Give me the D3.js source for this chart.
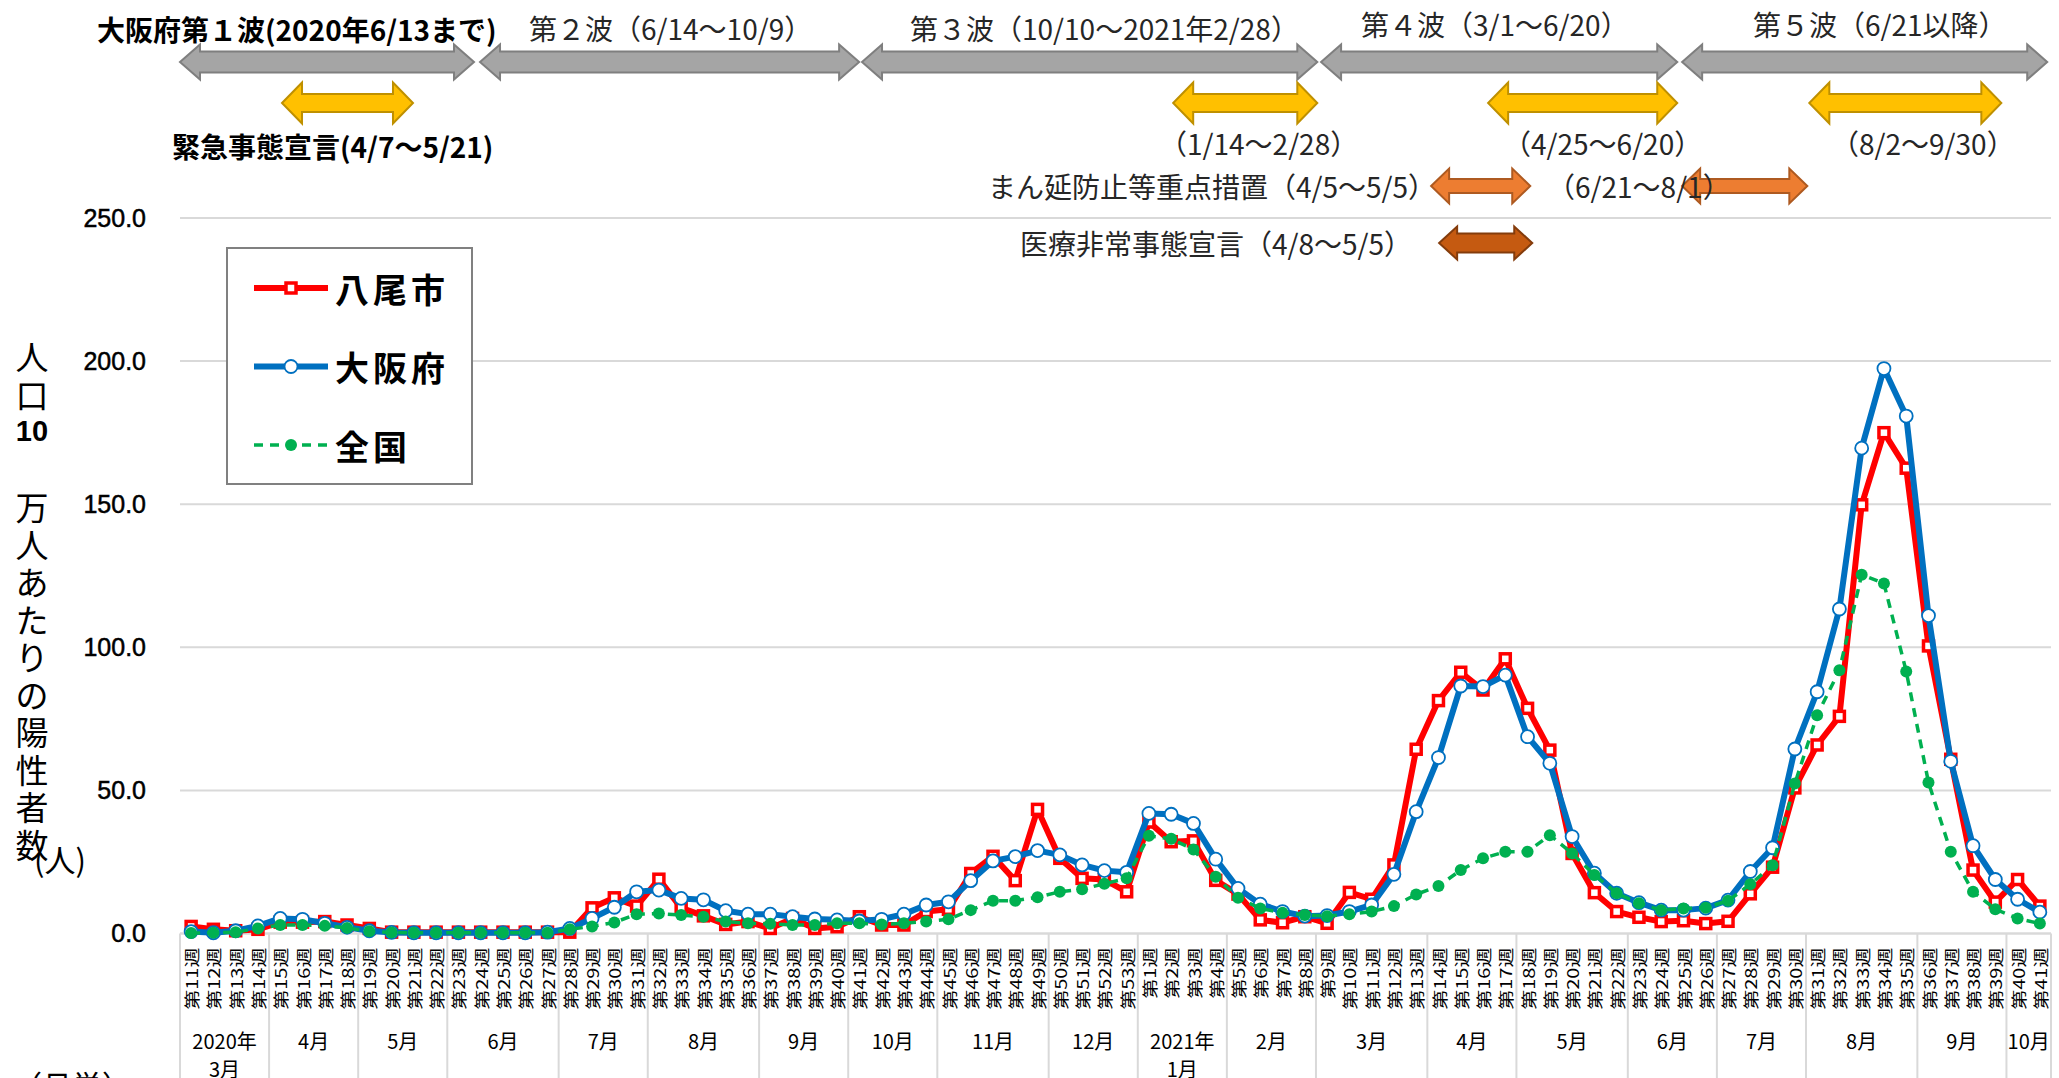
<!DOCTYPE html>
<html>
<head>
<meta charset="utf-8">
<script src="https://cdn.jsdelivr.net/npm/d3@7"></script>
<style>
body { margin: 0; background: #fff; }
svg text { font-family: 'Noto Sans CJK JP', sans-serif; fill: #000; }
</style>
</head>
<body>
<svg id="chart"></svg>
<script>
// category axis: week numbers, 2020 w11 .. 2021 w41
let weekNo = [11,12,13,14,15,16,17,18,19,20,21,22,23,24,25,26,27,28,29,30,31,32,33,34,35,36,37,38,39,40,41,42,43,44,45,46,47,48,49,50,51,52,53,
              1,2,3,4,5,6,7,8,9,10,11,12,13,14,15,16,17,18,19,20,21,22,23,24,25,26,27,28,29,30,31,32,33,34,35,36,37,38,39,40,41]
let monthLabels = ["2020年|3月","4月","5月","6月","7月","8月","9月","10月","11月","12月",
                   "2021年|1月","2月","3月","4月","5月","6月","7月","8月","9月","10月"]
let monthWeeks = [4,4,4,5,4,5,4,4,5,4, 4,4,5,4,5,4,4,5,4,2]

// positives per 100k people, weekly
let yao = [2.5,1.5,1.0,1.5,4.0,4.0,4.2,3.0,1.8,0.5,0.5,0.5,0.5,0.5,0.5,0.5,0.5,0.5,9.0,12.5,
           9.6,19.0,9.0,6.2,3.2,4.2,1.8,5.3,1.8,2.4,5.9,3.0,3.0,7.7,8.5,21.0,27.0,18.5,43.4,26.3,
           19.3,18.9,14.6,39.0,32.1,32.4,18.6,13.8,4.8,3.8,5.9,3.6,14.4,12.0,24.0,64.4,81.4,91.3,85.1,96.0,
           78.7,64.1,28.0,14.3,7.7,5.7,4.2,4.5,3.5,4.3,13.9,23.2,50.9,65.9,75.9,149.8,175.0,162.6,100.5,60.9,
           22.2,11.0,18.9,9.6]
let osaka = [0.7,0.3,1.0,2.7,5.3,5.0,3.6,2.2,1.0,0.4,0.3,0.3,0.3,0.3,0.3,0.3,0.5,1.8,5.3,9.2,
             14.6,15.2,12.3,11.8,8.0,6.8,6.8,5.9,5.1,4.8,4.4,5.0,6.8,10.0,11.1,18.5,25.4,26.9,29.0,27.5,
             24.0,22.0,21.4,42.0,41.7,38.5,26.0,15.8,10.3,7.7,6.1,6.3,7.7,10.0,20.7,42.6,61.5,86.5,86.3,90.3,
             68.8,59.5,33.9,21.1,14.1,10.8,8.2,8.2,8.9,11.7,21.7,30.0,64.5,84.5,113.4,169.6,197.4,180.8,111.1,60.2,
             30.7,18.9,12.0,7.5]
let zenkoku = [0.2,0.3,0.5,1.8,3.0,3.0,2.7,2.0,0.8,0.4,0.3,0.3,0.3,0.3,0.3,0.3,0.3,1.5,2.5,3.9,
               6.8,7.0,6.5,5.9,4.2,3.6,3.4,3.0,3.0,3.6,3.6,3.2,3.6,4.2,5.0,8.2,11.5,11.5,12.7,14.6,
               15.5,17.4,19.3,34.2,33.1,29.4,19.9,12.5,8.8,7.3,6.5,6.1,6.8,7.7,9.6,13.7,16.6,22.2,26.3,28.6,
               28.6,34.4,28.0,20.5,14.1,10.6,8.2,8.8,9.0,11.5,17.2,23.9,52.4,76.3,92.0,125.4,122.3,91.6,52.8,28.6,
               14.6,8.5,5.3,3.5]
let yTicks = [0, 50, 100, 150, 200, 250]

// periods, as positions on the week axis (week index, fractional)
let waves = [
  ["大阪府第１波(2020年6/13まで)", 0, 13.2],
  ["第２波（6/14～10/9）", 13.47, 30.49],
  ["第３波（10/10～2021年2/28）", 30.62, 51.06],
  ["第４波（3/1～6/20）", 51.23, 67.22],
  ["第５波（6/21以降）", 67.44, 83.83]
]
let emergency = [
  ["緊急事態宣言(4/7～5/21)", 4.58, 10.46],
  ["（1/14～2/28）", 44.59, 51.06],
  ["（4/25～6/20）", 58.73, 67.22],
  ["（8/2～9/30）", 73.15, 81.77]
]
let manbou = [
  ["まん延防止等重点措置（4/5～5/5）", 56.17, 60.62],
  ["（6/21～8/1）", 67.44, 73.06]
]
let iryou = [["医療非常事態宣言（4/8～5/5）", 56.53, 60.71]]

let width = 2059
let height = 1078
let margin = {top: 218, bottom: 144.4, left: 180, right: 8}
let y0 = height - margin.bottom

let svg = d3.select("#chart").attr("width", width).attr("height", height)

let n = weekNo.length
let xScale = d3.scaleBand().domain(d3.range(n)).range([margin.left, width - margin.right])
let xPos = d3.scaleLinear().domain([0, n]).range([margin.left, width - margin.right])
let yScale = d3.scaleLinear().domain([0, 250]).range([y0, margin.top])
let cx = i => xScale(i) + xScale.bandwidth() / 2

// gridlines
svg.append("g").selectAll("line")
   .data(yTicks)
   .enter()
   .append("line")
   .attr("x1", margin.left)
   .attr("x2", width - margin.right)
   .attr("y1", d => yScale(d))
   .attr("y2", d => yScale(d))
   .style("stroke", "#D9D9D9")
   .style("stroke-width", 2)

// y axis labels
let yAxis = svg.append("g")
   .attr("transform", "translate(" + margin.left + ",0)")
   .call(d3.axisLeft(yScale).tickValues(yTicks).tickFormat(d3.format(".1f")).tickSize(0).tickPadding(34))
yAxis.select(".domain").remove()
yAxis.selectAll("text")
   .style("font-family", "'Liberation Sans', Arial, sans-serif")
   .style("font-size", "25px")
   .style("fill", "#000")
   .style("stroke", "#000")
   .style("stroke-width", 0.5)

// month separators under the axis
let bounds = [0]
monthWeeks.forEach(c => bounds.push(bounds[bounds.length - 1] + c))
svg.append("g").selectAll("line")
   .data(bounds)
   .enter()
   .append("line")
   .attr("x1", d => xPos(d))
   .attr("x2", d => xPos(d))
   .attr("y1", y0)
   .attr("y2", height)
   .style("stroke", "#D9D9D9")
   .style("stroke-width", 2)

// week labels (rotated)
svg.append("g").selectAll("text")
   .data(weekNo)
   .enter()
   .append("text")
   .attr("transform", (d, i) => "translate(" + cx(i) + "," + (y0 + 14) + ") rotate(-90) scale(1.25,1)")
   .attr("text-anchor", "end")
   .attr("dominant-baseline", "central")
   .style("font-size", "16px")
   .text(d => "第" + d + "週")

// month labels
monthLabels.forEach((m, k) => {
    let mid = xPos((bounds[k] + bounds[k + 1]) / 2)
    let t = svg.append("text")
       .attr("x", mid)
       .attr("y", 1040)
       .attr("text-anchor", "middle")
       .attr("dominant-baseline", "central")
       .style("font-size", "20px")
    m.split("|").forEach((s, j) => {
        t.append("tspan").attr("x", mid).attr("dy", j == 0 ? 0 : 28).text(s)
    })
})

// bottom-left note (mostly cut off)
svg.append("text")
   .attr("x", 12)
   .attr("y", 1097)
   .style("font-size", "30px")
   .text("（月単）")

// y axis title, stacked characters
let yTitle = ["人", "口", "10", " ", "万", "人", "あ", "た", "り", "の", "陽", "性", "者", "数"]
svg.append("g").selectAll("text")
   .data(yTitle)
   .enter()
   .append("text")
   .attr("x", 32)
   .attr("y", (d, i) => 356 + i * 37.5)
   .attr("text-anchor", "middle")
   .attr("dominant-baseline", "central")
   .style("font-size", d => d == "10" ? "29px" : "33px")
   .style("font-family", d => d == "10" ? "'Liberation Sans', Arial, sans-serif" : null)
   .style("font-weight", d => d == "10" ? "bold" : null)
   .text(d => d)
svg.append("text")
   .attr("x", 60)
   .attr("y", 858)
   .attr("text-anchor", "middle")
   .attr("dominant-baseline", "central")
   .style("font-size", "31px")
   .text("(人)")

// double-headed block arrows
function arrowPath(x1, x2, cy, H, h, L) {
    return "M" + x1 + "," + cy +
        " L" + (x1 + L) + "," + (cy - H / 2) + " L" + (x1 + L) + "," + (cy - h / 2) +
        " L" + (x2 - L) + "," + (cy - h / 2) + " L" + (x2 - L) + "," + (cy - H / 2) +
        " L" + x2 + "," + cy +
        " L" + (x2 - L) + "," + (cy + H / 2) + " L" + (x2 - L) + "," + (cy + h / 2) +
        " L" + (x1 + L) + "," + (cy + h / 2) + " L" + (x1 + L) + "," + (cy + H / 2) + " Z"
}
function drawArrows(rows, cy, H, h, L, fill, stroke) {
    svg.append("g").selectAll("path")
       .data(rows)
       .enter()
       .append("path")
       .attr("d", d => arrowPath(xPos(d[1]), xPos(d[2]), cy, H, h, L))
       .style("fill", fill)
       .style("stroke", stroke)
       .style("stroke-width", 2)
}
drawArrows(waves, 62, 35, 21, 20, "#A5A5A5", "#7F7F7F")
drawArrows(emergency, 103, 41, 18, 20, "#FFC000", "#BF9000")
drawArrows(manbou, 186, 35, 14, 18, "#ED7D31", "#AE5A21")
drawArrows(iryou, 243, 33, 19, 18, "#C55A11", "#843C0C")

// annotation texts
function note(s, x, y, bold) {
    svg.append("text")
       .attr("x", x)
       .attr("y", y)
       .attr("dominant-baseline", "central")
       .style("font-size", "28px")
       .style("font-weight", bold ? "bold" : "normal")
       .style("fill", bold ? "#000" : "#262626")
       .text(s)
}
note(waves[0][0], 97, 29, true)
note(waves[1][0], 529, 28)
note(waves[2][0], 910, 28)
note(waves[3][0], 1361, 24)
note(waves[4][0], 1753, 24)
note(emergency[0][0], 172, 146, true)
note(emergency[1][0], 1159, 143)
note(emergency[2][0], 1503, 143)
note(emergency[3][0], 1831, 143)
note(manbou[0][0], 988, 186)
note(manbou[1][0], 1547, 186)
note(iryou[0][0], 1020, 243)

// x axis line
svg.append("line")
   .attr("x1", margin.left)
   .attr("x2", width - margin.right)
   .attr("y1", y0)
   .attr("y2", y0)
   .style("stroke", "#D9D9D9")
   .style("stroke-width", 2)

// series
let line = d3.line().x((d, i) => cx(i)).y(d => yScale(d))

svg.append("path").datum(yao)
   .attr("d", line)
   .style("fill", "none").style("stroke", "#FF0000").style("stroke-width", 6).style("stroke-linejoin", "round")
svg.append("g").selectAll("rect")
   .data(yao)
   .enter()
   .append("rect")
   .attr("x", (d, i) => cx(i) - 5)
   .attr("y", d => yScale(d) - 5)
   .attr("width", 10)
   .attr("height", 10)
   .style("fill", "#fff").style("stroke", "#FF0000").style("stroke-width", 3.5)

svg.append("path").datum(osaka)
   .attr("d", line)
   .style("fill", "none").style("stroke", "#0070C0").style("stroke-width", 6).style("stroke-linejoin", "round")
svg.append("g").selectAll("circle")
   .data(osaka)
   .enter()
   .append("circle")
   .attr("cx", (d, i) => cx(i))
   .attr("cy", d => yScale(d))
   .attr("r", 6.5)
   .style("fill", "#fff").style("stroke", "#0070C0").style("stroke-width", 1.8)

svg.append("path").datum(zenkoku)
   .attr("d", line)
   .style("fill", "none").style("stroke", "#00B050").style("stroke-width", 3.5).style("stroke-dasharray", "9,7")
svg.append("g").selectAll("circle")
   .data(zenkoku)
   .enter()
   .append("circle")
   .attr("cx", (d, i) => cx(i))
   .attr("cy", d => yScale(d))
   .attr("r", 6)
   .style("fill", "#00B050")

// legend
let lg = svg.append("g")
lg.append("rect")
  .attr("x", 227).attr("y", 248).attr("width", 245).attr("height", 236)
  .style("fill", "#fff").style("stroke", "#808080").style("stroke-width", 2)
let legendItems = [["八尾市", "#FF0000"], ["大阪府", "#0070C0"], ["全国", "#00B050"]]
legendItems.forEach((it, k) => {
    let ly = 288 + k * 78.5
    lg.append("line")
      .attr("x1", 254).attr("x2", 328).attr("y1", ly).attr("y2", ly)
      .style("stroke", it[1])
      .style("stroke-width", k == 2 ? 3.5 : 6)
      .style("stroke-dasharray", k == 2 ? "9,7" : null)
    if (k == 0) {
        lg.append("rect").attr("x", 286).attr("y", ly - 5).attr("width", 10).attr("height", 10)
          .style("fill", "#fff").style("stroke", it[1]).style("stroke-width", 3.5)
    } else if (k == 1) {
        lg.append("circle").attr("cx", 291).attr("cy", ly).attr("r", 6.5)
          .style("fill", "#fff").style("stroke", it[1]).style("stroke-width", 1.8)
    } else {
        lg.append("circle").attr("cx", 291).attr("cy", ly).attr("r", 6).style("fill", it[1])
    }
    lg.append("text")
      .attr("x", 335).attr("y", ly)
      .attr("dominant-baseline", "central")
      .style("font-size", "34px")
      .style("font-weight", "bold")
      .style("letter-spacing", "4px")
      .text(it[0])
})
</script>
</body>
</html>
